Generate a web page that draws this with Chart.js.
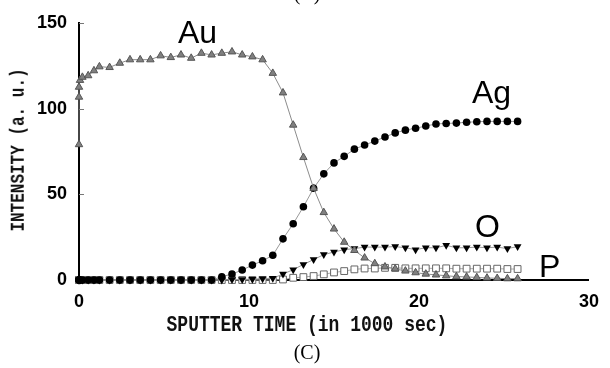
<!DOCTYPE html>
<html>
<head>
<meta charset="utf-8">
<script src="https://cdn.jsdelivr.net/npm/chart.js@4.4.1/dist/chart.umd.min.js"></script>
<style>
  html, body { margin: 0; padding: 0; background: #fff; }
  #wrap { position: relative; width: 610px; height: 368px; overflow: hidden; }
  #chart { position: absolute; left: 0; top: 0; }
  .lbl { position: absolute; font-family: "Liberation Sans", Arial, sans-serif; font-size: 32px; line-height: 32px; color: #000; white-space: nowrap; }
  .axt { position: absolute; font-family: "Liberation Mono", "DejaVu Sans Mono", monospace; font-weight: bold; color: #111; white-space: nowrap; text-align: center; }
  #xTitle { left: 0; width: 614px; top: 316px; font-size: 18px; line-height: 18px; transform: scaleY(1.25); }
  #yTitle { left: -81px; width: 200px; top: 141px; font-size: 16px; line-height: 18px; transform: rotate(-90deg) scaleY(1.25); }
  .cap { position: absolute; font-family: "Liberation Serif", "Times New Roman", serif; font-size: 20px; line-height: 20px; color: #000; text-align: center; width: 100px; }
</style>
</head>
<body>
<div id="wrap">
  <canvas id="chart" width="610" height="368"></canvas>
  <div class="cap" style="left:257px; top:-17px;">(B)</div>
  <div class="lbl" style="left:178px; top:16px;">Au</div>
  <div class="lbl" style="left:472px; top:76px;">Ag</div>
  <div class="lbl" style="left:475px; top:210px;">O</div>
  <div class="lbl" style="left:539px; top:250px;">P</div>
  <div class="axt" id="yTitle">INTENSITY (a. u.)</div>
  <div class="axt" id="xTitle">SPUTTER TIME (in 1000 sec)</div>
  <div class="cap" style="left:257px; top:342px;">(C)</div>
</div>
<script>
/* DATA */
const sputterTime = [0, 0, 0, 0.06, 0.2, 0.54, 0.88,
  1.2, 1.8, 2.4, 3.0, 3.6, 4.2, 4.8, 5.4, 6.0, 6.6, 7.2, 7.8, 8.4, 9.0, 9.6, 10.2, 10.8, 11.4,
  12.0, 12.6, 13.2, 13.8, 14.4, 15.0, 15.6, 16.2, 16.8, 17.4, 18.0, 18.6, 19.2, 19.8,
  20.4, 21.0, 21.6, 22.2, 22.8, 23.4, 24.0, 24.6, 25.2, 25.8];

const au = [79, 106.7, 112.5, 116.5, 118.3, 119.2, 122.1,
  124.4, 124, 126.5, 128.5, 128.5, 128.5, 130.8, 129.8, 131.3, 129.4, 132.3, 131.3, 132.3, 133.1, 131.3, 130.2, 128.5, 120.6,
  109.2, 90.4, 71.5, 53.5, 39.4, 29.8, 22.1, 17.3, 12.9, 9.6, 7.7, 6.5, 5.3, 4.3,
  3.5, 3, 2.5, 2, 1.8, 1.5, 1.2, 1, 0.8, 0.8];

const ag = [0, 0, 0, 0, 0, 0, 0,
  0, 0, 0, 0, 0, 0, 0, 0, 0, 0, 0, 0, 1.9, 3.5, 5.8, 8.7, 11.2, 14.4,
  24, 32.8, 42.7, 53.5, 61.9, 68.3, 72.1, 76.3, 78.7, 81, 83.4, 85.8, 87.4, 88.5,
  89.8, 91, 91.3, 91.5, 92, 92.3, 92.5, 92.5, 92.5, 92.5];

const oxygen = [0, 0, 0, 0, 0, 0, 0,
  0, 0, 0, 0, 0, 0, 0, 0, 0, 0, 0, 0, 0, 0.3, 0.3, 0.5, 0.8, 1,
  3.5, 6, 9.1, 11.9, 14.8, 16.3, 17.7, 18.3, 19.2, 19.2, 19.2, 19.5, 18.8, 17.7,
  18.8, 18.8, 20.2, 18.8, 18.8, 19.2, 18.8, 19.2, 18.3, 19.5];

const phos = [0, 0, 0, 0, 0, 0, 0,
  0, 0, 0, 0, 0, 0, 0, 0, 0, 0, 0, 0, 0, 0, 0, 0, 0, 0,
  0.3, 1.3, 1.7, 2.3, 3.3, 4.4, 5.2, 6.2, 6.7, 6.7, 7.1, 7.1, 6.8, 6.8,
  6.8, 6.8, 6.8, 6.6, 6.6, 6.6, 6.6, 6.6, 6.4, 6.4];

const xTicks = [0, 10, 20, 30];
const yTicks = [0, 50, 100, 150];

const pts = vals => vals.map((v, i) => ({ x: sputterTime[i], y: v }));

/* inward ticks on the intensity axis */
const innerTicks = {
  id: "innerTicks",
  afterDraw(chart) {
    const { ctx, scales: { x, y } } = chart;
    ctx.save();
    ctx.strokeStyle = "#777";
    ctx.lineWidth = 1;
    yTicks.forEach(v => {
      if (!v) return;
      const py = Math.round(y.getPixelForValue(v)) + 0.5;
      ctx.beginPath();
      ctx.moveTo(x.left, py);
      ctx.lineTo(x.left + 5, py);
      ctx.stroke();
    });
    ctx.restore();
  }
};

const tickFont = { family: "'Liberation Sans', Arial, sans-serif", size: 18, weight: "bold" };

new Chart(document.getElementById("chart"), {
  type: "scatter",
  data: {
    datasets: [
      {
        label: "Au",
        data: pts(au),
        showLine: true,
        borderColor: "#8c8c8c",
        borderWidth: 1,
        pointStyle: "triangle",
        pointRadius: 4.3,
        pointBackgroundColor: "#808080",
        pointBorderColor: "#555",
        pointBorderWidth: 1,
        clip: false
      },
      {
        label: "Ag",
        data: pts(ag),
        showLine: true,
        borderColor: "#999",
        borderWidth: 1,
        pointStyle: "circle",
        pointRadius: 3.8,
        pointBackgroundColor: "#000",
        pointBorderColor: "#000",
        pointBorderWidth: 0,
        clip: false
      },
      {
        label: "O",
        data: pts(oxygen),
        showLine: true,
        borderColor: "#999",
        borderWidth: 1,
        pointStyle: "triangle",
        rotation: 180,
        pointRadius: 4.5,
        pointBackgroundColor: "#000",
        pointBorderColor: "#000",
        pointBorderWidth: 0,
        clip: false
      },
      {
        label: "P",
        data: pts(phos),
        showLine: true,
        borderColor: "#aaa",
        borderWidth: 1,
        pointStyle: "rect",
        pointRadius: 4.8,
        pointBackgroundColor: "#fff",
        pointBorderColor: "#666",
        pointBorderWidth: 1,
        clip: false
      }
    ]
  },
  options: {
    responsive: false,
    animation: false,
    layout: { padding: { top: 20, right: 13, left: 0, bottom: 0 } },
    plugins: {
      legend: { display: false },
      tooltip: { enabled: false }
    },
    scales: {
      x: {
        type: "linear",
        min: 0,
        max: 30,
        afterFit: s => { s.height = 88; },
        afterBuildTicks: s => { s.ticks = xTicks.map(v => ({ value: v })); },
        ticks: { color: "#000", font: tickFont, padding: 11, maxRotation: 0 },
        grid: { display: false, drawTicks: false },
        border: { color: "#000", width: 2 }
      },
      y: {
        min: 0,
        max: 150,
        afterFit: s => { s.width = 79; },
        afterBuildTicks: s => { s.ticks = yTicks.map(v => ({ value: v })); },
        ticks: { color: "#000", font: tickFont, padding: 12 },
        grid: { display: false, drawTicks: false },
        border: { color: "#000", width: 2 }
      }
    }
  },
  plugins: [innerTicks]
});
</script>
</body>
</html>
